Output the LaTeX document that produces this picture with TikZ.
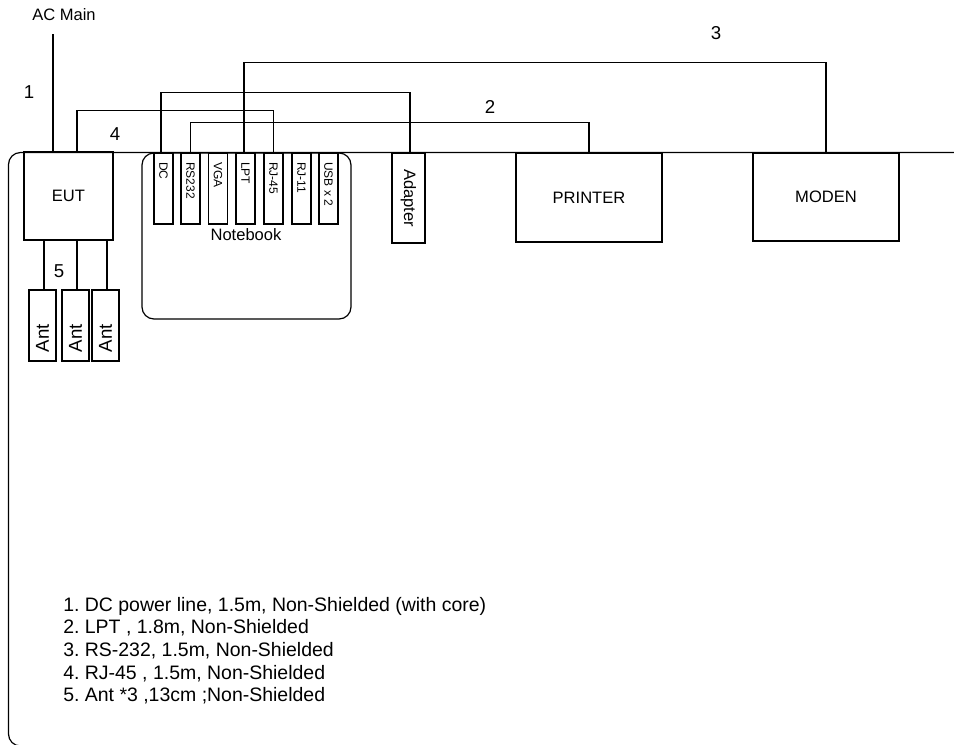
\documentclass[tikz,border=0pt]{standalone}
\usepackage{fontspec}
\setmainfont{Liberation Sans}
\usetikzlibrary{calc}
\frenchspacing
\tikzset{
  wire/.style={line width=0.9pt},
  box/.style 2 args={draw, line width=0.9pt, minimum width=#1*0.75pt, minimum height=#2*0.75pt, inner sep=0pt, font=\fontsize{12.4}{14}\selectfont},
  portbox/.style={box={19}{71}},
  antbox/.style={box={27}{71}},
  portlbl/.style={rotate=-90, anchor=west, inner sep=0pt, font=\fontsize{9}{10}\selectfont},
  antlbl/.style={rotate=90, inner sep=0pt, font=\fontsize{14}{16}\selectfont},
  num/.style={inner sep=0pt, font=\fontsize{14}{16}\selectfont},
  lbl/.style={inner sep=0pt, font=\fontsize{12.4}{14}\selectfont},
  legend/.style={anchor=base west, inner sep=0pt, font=\fontsize{14.6}{17}\selectfont},
}
\begin{document}
\begin{tikzpicture}[x=0.75pt, y=-0.75pt]
\useasboundingbox (0,0) rectangle (954,744);
\clip (0,0) rectangle (954,744);
% outer frame
\draw[wire, rounded corners=9pt] (970,152.5) -- (8.5,152.5) -- (8.5,746) -- (970,746);
% devices
\node[box={89}{88}] (eut) at (68.5,196) {EUT};
\node[box={209}{166}, rounded corners=9pt] (nb) at (246.5,236) {};
\node[lbl] (nblbl) at (246,235) {Notebook};
\node[portbox] (pDC)  at (163.5,188.5) {};
\node[portbox] (pRS)  at (190.5,188.5) {};
\node[portbox] (pVGA) at (218,188.5) {};
\node[portbox] (pLPT) at (245.5,188.5) {};
\node[portbox] (pRJ45) at (273.5,188.5) {};
\node[portbox] (pRJ11) at (301.5,188.5) {};
\node[portbox] (pUSB) at (328.5,188.5) {};
\node[portlbl] (tDC)   at (163.5,162) {DC};
\node[portlbl] (tRS)   at (190.5,162) {RS232};
\node[portlbl] (tVGA)  at (218,162) {VGA};
\node[portlbl] (tLPT)  at (245.5,162) {LPT};
\node[portlbl] (tRJ45) at (273.5,162) {RJ-45};
\node[portlbl] (tRJ11) at (301.5,162) {RJ-11};
\node[portlbl] (tUSB)  at (328.5,162) {USB x 2};
\node[box={90}{33}, rotate=-90] (adapter) at (408.5,198) {Adapter};
\node[box={146}{89}] (printer) at (589,197.5) {PRINTER};
\node[box={146}{88}] (moden) at (826,197) {MODEN};
% antennas
\node[antbox] (ant1) at (42.5,325.5) {};
\node[antbox] (ant2) at (75.5,325.5) {};
\node[antbox] (ant3) at (105.5,325.5) {};
\node[antlbl] (a1) at (42.5,338) {Ant};
\node[antlbl] (a2) at (75.5,338) {Ant};
\node[antlbl] (a3) at (105.5,338) {Ant};
% cables
\coordinate (ac) at (53,34);
\draw[wire] (ac) -- (ac |- eut.north);
\draw[wire] ($(eut.north)+(8.5,0)$) -- ++(0,-41) -| (pRJ45.north);
\draw[wire] ($(pDC.north)+(-2.5,0)$) -- ++(0,-60) -| ($(adapter.west)+(1.5,0)$);
\draw[wire] (pRS.north) -- ++(0,-30) -| (printer.north);
\draw[wire] ($(pLPT.north)+(-1.5,0)$) -- ++(0,-90) -| (moden.north);
\draw[wire] ($(ant1.north)+(1.5,0)$) -- ($(ant1.north |- eut.south)+(1.5,0)$);
\draw[wire] ($(ant2.north)+(1.5,0)$) -- ($(ant2.north |- eut.south)+(1.5,0)$);
\draw[wire] ($(ant3.north)+(1.5,0)$) -- ($(ant3.north |- eut.south)+(1.5,0)$);
% labels
\node[lbl] (acl) at (64,15) {AC Main};
\node[num] (n1) at (29,92) {1};
\node[num] (n4) at (115,134) {4};
\node[num] (n5) at (59,271) {5};
\node[num] (n2) at (490,107) {2};
\node[num] (n3) at (716,33) {3};
% legend
\node[legend] (l1) at (63,611) {1. DC power line, 1.5m, Non-Shielded (with core)};
\node[legend] (l2) at (63,633.7) {2. LPT , 1.8m, Non-Shielded};
\node[legend] (l3) at (63,656.4) {3. RS-232, 1.5m, Non-Shielded};
\node[legend] (l4) at (63,679.1) {4. RJ-45 , 1.5m, Non-Shielded};
\node[legend] (l5) at (63,701.8) {5. Ant *3 ,13cm ;Non-Shielded};
\end{tikzpicture}
\end{document}
